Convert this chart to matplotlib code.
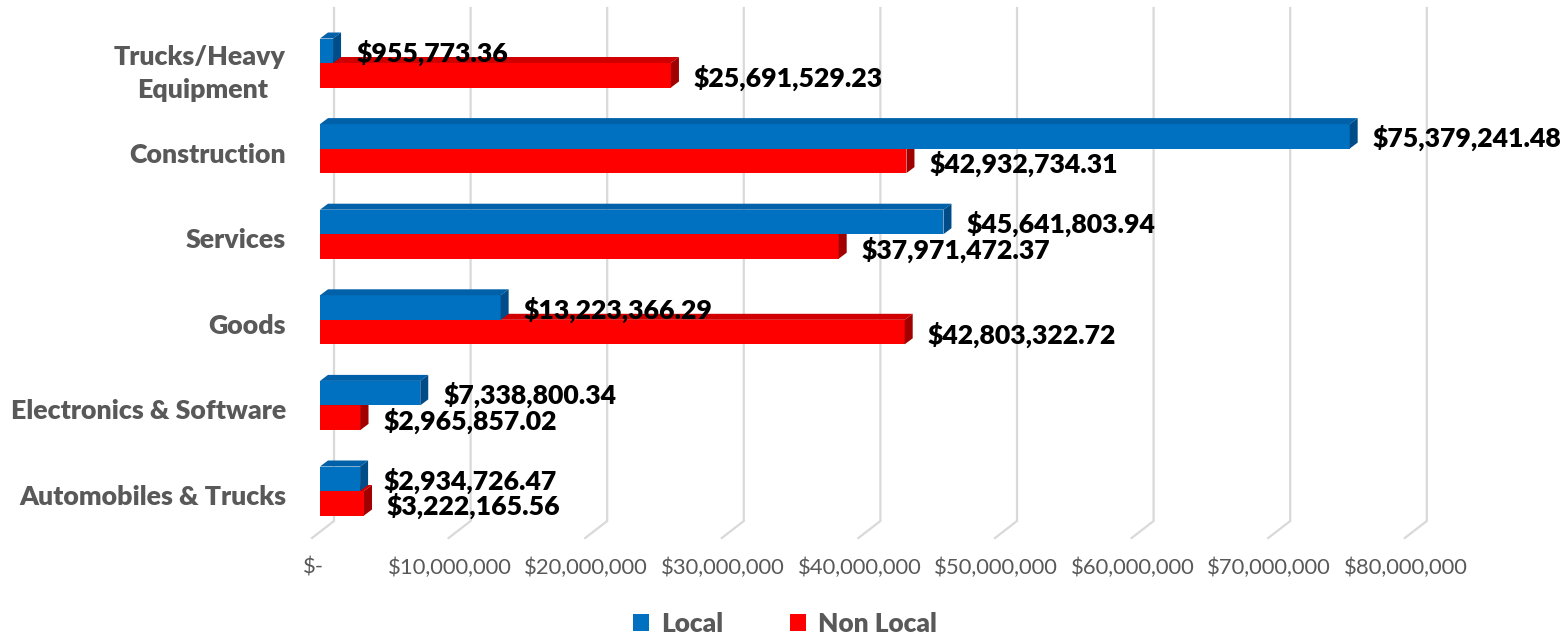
import matplotlib
matplotlib.use("Agg")
import matplotlib.pyplot as plt
from matplotlib.patches import Polygon, Rectangle, Patch

categories = ["Automobiles & Trucks", "Electronics & Software", "Goods",
              "Services", "Construction", "Trucks/Heavy Equipment"]
local_vals = [2934726.47, 7338800.34, 13223366.29, 45641803.94, 75379241.48, 955773.36]
nonlocal_vals = [3222165.56, 2965857.02, 42803322.72, 37971472.37, 42932734.31, 25691529.23]
tick_vals = [0, 10e6, 20e6, 30e6, 40e6, 50e6, 60e6, 70e6, 80e6]
tick_labels = ["$-", "$10,000,000", "$20,000,000", "$30,000,000", "$40,000,000",
               "$50,000,000", "$60,000,000", "$70,000,000", "$80,000,000"]

W, H = 1565, 635
fig = plt.figure(figsize=(W / 100, H / 100), dpi=100)
FONT = ["Lato", "DejaVu Sans"]

# axes placement (pixels)
ax_left, ax_w = 320, 1092.8
ax_bot, ax_h = 101.2, 513.6
ax = fig.add_axes([ax_left / W, ax_bot / H, ax_w / W, ax_h / H])
XMAX = 80e6
ax.set_xlim(0, XMAX)
ax.set_ylim(-0.5, 5.5)
ax.axis("off")

px_x = XMAX / ax_w          # data per pixel (x)
px_y = 6.0 / ax_h           # data per pixel (y)

def ypix(p):  # pixel-from-top -> data y
    return -0.5 + ((H - p) - ax_bot) * px_y

# gridlines (3D back wall + floor)
grid_col = "#d9d9d9"
for v in tick_vals:
    xb = v + 14 * px_x
    xf = v - 8 * px_x
    ax.plot([xb, xb, xf], [ypix(8), ypix(521), ypix(538)], color=grid_col,
            lw=1.6, clip_on=False, zorder=1, solid_joinstyle="miter")

# tick labels
for v, t in zip(tick_vals, tick_labels):
    ax.text(v - 7 * px_x, ypix(568), t, ha="center", va="center",
            fontsize=15.8, color="#595959", family=FONT, clip_on=False)

bh = 24.5 * px_y
dx, dy = 8 * px_x, 6 * px_y

def bar3d(x, y0, front, top, side):
    ax.add_patch(Rectangle((0, y0), x, bh, facecolor=front, edgecolor="none", zorder=3))
    ax.add_patch(Polygon([(0, y0 + bh), (x, y0 + bh), (x + dx, y0 + bh + dy),
                          (dx, y0 + bh + dy)], closed=True, facecolor=top,
                         edgecolor="none", zorder=3))
    ax.add_patch(Polygon([(x, y0), (x + dx, y0 + dy), (x + dx, y0 + bh + dy),
                          (x, y0 + bh)], closed=True, facecolor=side,
                         edgecolor="none", zorder=3))

BLUE = ("#0070C0", "#0060A8", "#004C88")
RED = ("#FF0000", "#D00000", "#A00000")

LBL = dict(ha="left", va="center", fontsize=19.2, fontweight="heavy", color="black",
           family=FONT, zorder=5, clip_on=False)
for i, (lv, nv) in enumerate(zip(local_vals, nonlocal_vals)):
    bar3d(nv, i - bh, *RED)
    bar3d(lv, i, *BLUE)
    ax.text(lv + 23 * px_x, i + bh / 2 - 2 * px_y, f"${lv:,.2f}", **LBL)
    ax.text(nv + 23 * px_x, i - bh / 2 - 3 * px_y, f"${nv:,.2f}", **LBL)

# category labels
CAT = dict(ha="right", va="center", fontsize=19.3, fontweight="heavy",
           color="#595959", family=FONT, clip_on=False)
lab_x = -34 * px_x
for i, c in enumerate(categories):
    if c == "Trucks/Heavy Equipment":
        ax.text(lab_x, i + 6 * px_y, "Trucks/Heavy", **CAT)
        ax.text(-52 * px_x, i - 27 * px_y, "Equipment", **CAT)
    else:
        ax.text(lab_x, i - 6 * px_y, c, **CAT)

handles = [Patch(facecolor=BLUE[0], label="Local"), Patch(facecolor=RED[0], label="Non Local")]
leg = fig.legend(handles=handles, loc="center", bbox_to_anchor=(785 / W, 1 - 624 / H),
                 ncol=2, frameon=False, handlelength=0.6, handleheight=0.6,
                 handletextpad=0.45, columnspacing=2.55,
                 prop={"family": FONT, "weight": "heavy", "size": 18.9})
for t in leg.get_texts():
    t.set_color("#595959")

fig.savefig("out.png", dpi=100)
